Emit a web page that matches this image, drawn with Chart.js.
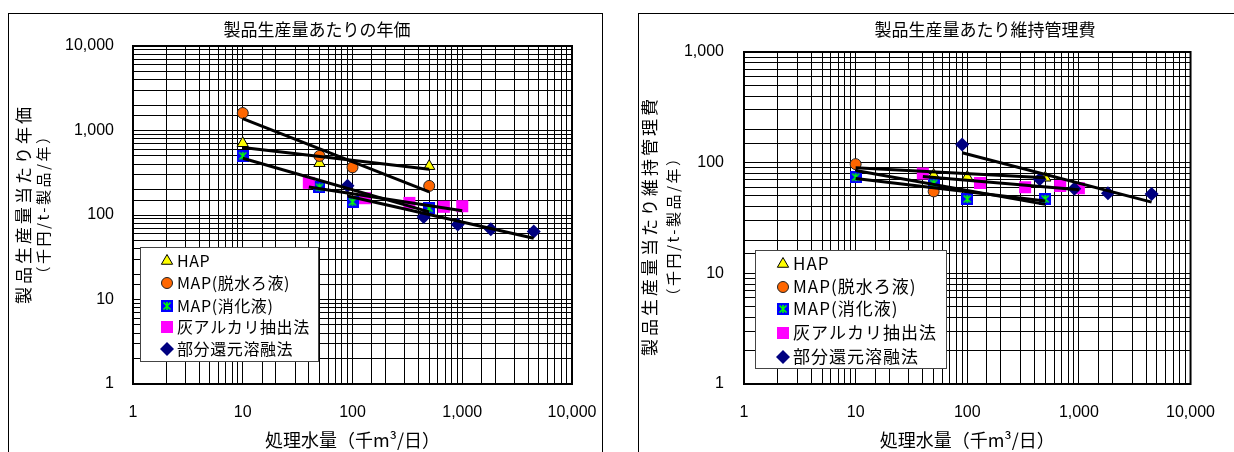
<!DOCTYPE html>
<html lang="ja">
<head>
<meta charset="utf-8">
<title>製品生産量あたりの年価・維持管理費</title>
<script src="https://cdn.jsdelivr.net/npm/chart.js"></script>
<style>
  html, body { margin: 0; padding: 0; background: #fff; }
  body { position: relative; width: 1234px; height: 452px; overflow: hidden; }
  .frame { position: absolute; top: 13px; height: 460px; border: 1px solid #000; box-sizing: border-box; }
  #frameAnnual { left: 8px; width: 595px; }
  #frameUpkeep { left: 638px; width: 640px; }
  canvas { position: absolute; top: 0; }
  #annualChart { left: 0; }
  #upkeepChart { left: 620px; }
</style>
</head>
<body>
<div class="frame" id="frameAnnual"></div>
<div class="frame" id="frameUpkeep"></div>
<canvas id="annualChart" width="620" height="452"></canvas>
<canvas id="upkeepChart" width="614" height="452"></canvas>
<script>
// 処理方式
const methods = ['HAP', 'MAP(脱水ろ液)', 'MAP(消化液)', '灰アルカリ抽出法', '部分還元溶融法'];

// 目盛ラベル
const flowTickLabels = ['1', '10', '100', '1,000', '10,000'];
const annualTickLabels = ['1', '10', '100', '1,000', '10,000'];
const upkeepTickLabels = ['1', '10', '100', '1,000'];

// 処理水量 (千m3/日)
const ashX = [40, 130, 330, 680, 1000];
const meltX = [90, 445, 910, 1820, 4480];

// 年価 (千円/t-製品/年)
const annualHapX = [10, 50, 500];
const annualHapY = [706, 410, 378];
const annualDewX = [10, 50, 100, 500];
const annualDewY = [1610, 500, 367, 221];
const annualDigX = [10, 50, 100, 500];
const annualDigY = [500, 213, 143, 120];
const annualAshY = [240, 158, 139, 125, 127];
const annualMeltY = [222, 95, 77, 68, 64];
// 近似線の両端
const annualTrendX = [[10, 500], [10, 500], [10, 500], [40, 1000], [90, 4480]];
const annualTrendY = [[628, 348], [1382, 188], [469, 109], [215, 112], [168, 53]];

// 維持管理費 (千円/t-製品/年)
const upkeepHapX = [50, 100, 500];
const upkeepHapY = [77, 74, 73];
const upkeepDewX = [10, 50];
const upkeepDewY = [97, 55];
const upkeepDigX = [10, 50, 100, 500];
const upkeepDigY = [74, 65, 47, 47];
const upkeepAshY = [80, 65.5, 60, 61.5, 58.6];
const upkeepMeltY = [146, 71, 58, 53, 52];
const upkeepTrendX = [[10, 500], [10, 500], [10, 500], [40, 1000], [90, 4480]];
const upkeepTrendY = [[90, 73], [85, 42], [72, 45], [75, 57], [123, 44]];

const CJK = '"Noto Sans CJK JP", "Noto Sans", sans-serif';

// 青地に緑の米印のマーカー
function digestMark(size) {
  const c = document.createElement('canvas');
  c.width = c.height = size;
  const g = c.getContext('2d');
  g.fillStyle = '#0000ff';
  g.fillRect(0, 0, size, size);
  g.strokeStyle = '#00ff00';
  g.lineWidth = 1.6;
  const a = 2.5, b = size - 2.5, m = size / 2;
  g.beginPath();
  g.moveTo(a, a); g.lineTo(b, b);
  g.moveTo(b, a); g.lineTo(a, b);
  g.moveTo(m, a - 0.5); g.lineTo(m, b + 0.5);
  g.stroke();
  return c;
}

const markStyles = [
  { pointStyle: 'triangle', radius: 6.5, bg: '#ffff00', border: '#000000', bw: 1 },
  { pointStyle: 'circle', radius: 5.5, bg: '#ff6600', border: '#222222', bw: 1 },
  { pointStyle: digestMark(12), radius: 6, bg: '#0000ff', border: '#0000ff', bw: 0 },
  { pointStyle: 'rect', radius: 8.5, bg: '#ff00ff', border: '#ff00ff', bw: 0 },
  { pointStyle: 'rectRot', radius: 7, bg: '#000080', border: '#000080', bw: 0 }
];

function buildDatasets(seriesX, seriesY, trendX, trendY) {
  const marks = seriesX.map((xs, i) => ({
    label: methods[i],
    data: xs.map((x, j) => ({ x: x, y: seriesY[i][j] })),
    showLine: false,
    pointStyle: markStyles[i].pointStyle,
    pointRadius: markStyles[i].radius,
    pointHoverRadius: markStyles[i].radius,
    pointBackgroundColor: markStyles[i].bg,
    pointBorderColor: markStyles[i].border,
    pointBorderWidth: markStyles[i].bw,
    order: 10 - i
  }));
  const trends = trendX.map((xs, i) => ({
    data: xs.map((x, j) => ({ x: x, y: trendY[i][j] })),
    showLine: true,
    borderColor: '#000',
    borderWidth: 3,
    pointRadius: 0,
    order: 0
  }));
  return marks.concat(trends);
}

function isDecade(v) {
  const e = Math.round(Math.log10(v));
  return Math.abs(v - Math.pow(10, e)) < 1e-9;
}

function decadeLabel(labels) {
  return function (value) {
    return isDecade(value) ? labels[Math.round(Math.log10(value))] : '';
  };
}

// プロット領域の太枠
const areaFrame = {
  id: 'areaFrame',
  beforeDatasetsDraw(chart) {
    const { ctx, chartArea: a } = chart;
    ctx.save();
    ctx.strokeStyle = '#000';
    ctx.lineWidth = 2;
    ctx.strokeRect(a.left, a.top, a.right - a.left, a.bottom - a.top);
    ctx.restore();
  }
};

// 枠付き凡例
const boxLegend = {
  id: 'boxLegend',
  afterDraw(chart, args, o) {
    const ctx = chart.ctx;
    ctx.save();
    ctx.fillStyle = '#fff';
    ctx.fillRect(o.left, o.top, o.width, o.height);
    ctx.strokeStyle = '#444';
    ctx.lineWidth = 1;
    ctx.strokeRect(o.left + 0.5, o.top + 0.5, o.width, o.height);
    ctx.font = o.font;
    ctx.letterSpacing = o.spacing + 'px';
    ctx.textAlign = 'left';
    ctx.textBaseline = 'middle';
    chart.data.datasets.filter(d => d.label).forEach((d, i) => {
      const y = o.rows[i];
      ctx.fillStyle = d.pointBackgroundColor;
      ctx.strokeStyle = d.pointBorderColor;
      ctx.lineWidth = d.pointBorderWidth;
      Chart.helpers.drawPoint(ctx, {
        pointStyle: d.pointStyle,
        radius: d.pointRadius * o.markScale,
        rotation: 0,
        borderWidth: d.pointBorderWidth
      }, o.markX, y);
      ctx.fillStyle = '#000';
      ctx.fillText(d.label, o.textX, y);
    });
    ctx.restore();
  }
};

// グラフ表題と縦軸表題
const panelText = {
  id: 'panelText',
  afterDraw(chart, args, o) {
    const ctx = chart.ctx;
    o.items.forEach(t => {
      ctx.save();
      ctx.fillStyle = '#000';
      ctx.textAlign = 'center';
      ctx.textBaseline = 'middle';
      ctx.font = t.font;
      ctx.letterSpacing = (t.spacing || 0) + 'px';
      ctx.translate(t.x, t.y);
      if (t.vertical) ctx.rotate(-Math.PI / 2);
      ctx.fillText(t.text, 0, 0);
      ctx.restore();
    });
  }
};

function makePanel(id, p) {
  const grid = { color: '#000', lineWidth: 1, drawTicks: false };
  return new Chart(document.getElementById(id), {
    type: 'scatter',
    data: { datasets: p.datasets },
    plugins: [areaFrame, boxLegend, panelText],
    options: {
      responsive: false,
      animation: false,
      layout: { padding: p.padding },
      plugins: {
        legend: { display: false },
        tooltip: { enabled: false },
        boxLegend: p.legend,
        panelText: { items: p.texts }
      },
      scales: {
        x: {
          type: 'logarithmic',
          min: 1,
          max: 10000,
          afterFit: s => { s.height = p.xAxisHeight; },
          grid: grid,
          border: { display: false },
          ticks: {
            autoSkip: false,
            maxRotation: 0,
            padding: 19,
            color: '#000',
            font: { family: '"Liberation Sans", Arial, sans-serif', size: 16 },
            callback: decadeLabel(flowTickLabels)
          },
          title: {
            display: true,
            text: '処理水量（千m³/日）',
            color: '#000',
            font: { family: CJK, size: 18 },
            padding: { top: 0, bottom: 1 }
          }
        },
        y: {
          type: 'logarithmic',
          min: 1,
          max: p.yMax,
          afterFit: s => { s.width = p.yAxisWidth; },
          grid: grid,
          border: { display: false },
          ticks: {
            autoSkip: false,
            padding: p.yTickPad,
            color: '#000',
            font: { family: '"Liberation Sans", Arial, sans-serif', size: 16 },
            callback: decadeLabel(p.yLabels)
          }
        }
      }
    }
  });
}

makePanel('annualChart', {
  datasets: buildDatasets(
    [annualHapX, annualDewX, annualDigX, ashX, meltX],
    [annualHapY, annualDewY, annualDigY, annualAshY, annualMeltY],
    annualTrendX, annualTrendY),
  padding: { left: 0, right: 48, top: 46, bottom: 0 },
  yAxisWidth: 133,
  xAxisHeight: 68,
  yTickPad: 19,
  yMax: 10000,
  yLabels: annualTickLabels,
  legend: {
    left: 140, top: 247, width: 178, height: 114,
    rows: [261, 283, 306, 327, 349],
    markX: 167, textX: 177, markScale: 1,
    font: '16px ' + CJK, spacing: 0.6
  },
  texts: [
    { text: '製品生産量あたりの年価', x: 317, y: 30, font: '17px ' + CJK },
    { text: '製品生産量当たり年価', x: 24, y: 204, font: '17px ' + CJK, spacing: 3, vertical: true },
    { text: '（千円/t-製品/年）', x: 43, y: 204, font: '15px ' + CJK, spacing: 2.5, vertical: true }
  ]
});

makePanel('upkeepChart', {
  datasets: buildDatasets(
    [upkeepHapX, upkeepDewX, upkeepDigX, ashX, meltX],
    [upkeepHapY, upkeepDewY, upkeepDigY, upkeepAshY, upkeepMeltY],
    upkeepTrendX, upkeepTrendY),
  padding: { left: 0, right: 30, top: 52, bottom: 0 },
  yAxisWidth: 124,
  xAxisHeight: 68,
  yTickPad: 20,
  yMax: 1000,
  yLabels: upkeepTickLabels,
  legend: {
    left: 135, top: 250, width: 191, height: 118,
    rows: [264, 287, 309, 333, 357],
    markX: 163, textX: 173, markScale: 1,
    font: '17px ' + CJK, spacing: 1
  },
  texts: [
    { text: '製品生産量あたり維持管理費', x: 365, y: 30, font: '17px ' + CJK },
    { text: '製品生産量当たり維持管理費', x: 30, y: 226, font: '17px ' + CJK, spacing: 3, vertical: true },
    { text: '（千円/t-製品/年）', x: 53, y: 226, font: '15px ' + CJK, spacing: 2.5, vertical: true }
  ]
});
</script>
</body>
</html>
